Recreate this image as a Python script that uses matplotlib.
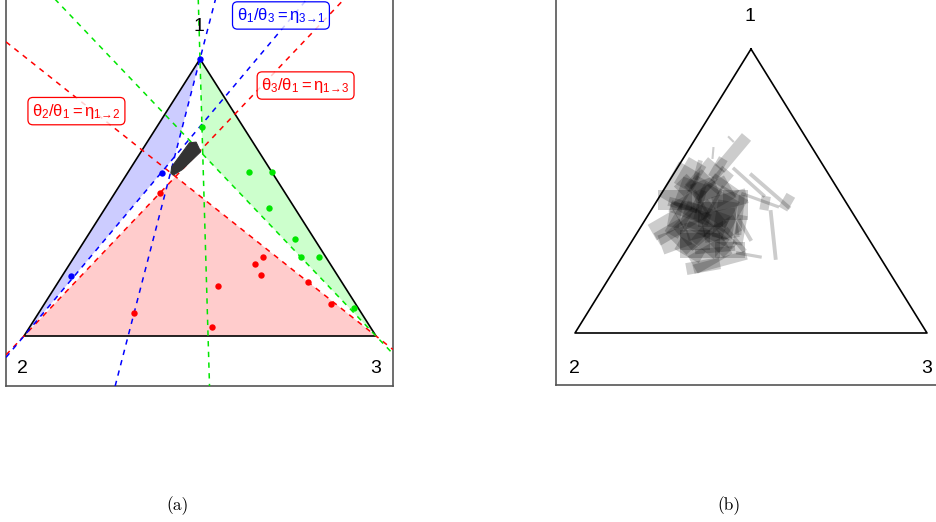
import numpy as np
import matplotlib
matplotlib.use('Agg')
import matplotlib.pyplot as plt
from matplotlib.patches import Polygon

plt.rcParams['font.family'] = ['Liberation Sans', 'DejaVu Sans']
plt.rcParams['mathtext.fontset'] = 'custom'
plt.rcParams['mathtext.rm'] = 'Liberation Sans'
plt.rcParams['mathtext.it'] = 'Liberation Sans'
plt.rcParams['mathtext.default'] = 'regular'

H = np.sqrt(3) / 2

# ternary points (theta1, theta2, theta3) for each colour
red_t1 = [0.516, 0.181, 0.083, 0.032, 0.260, 0.285, 0.220, 0.195, 0.116]
red_t2 = [0.356, 0.358, 0.646, 0.450, 0.214, 0.179, 0.217, 0.096, 0.070]
red_t3 = [0.128, 0.461, 0.271, 0.518, 0.526, 0.536, 0.563, 0.709, 0.814]

green_t1 = [0.755, 0.592, 0.592, 0.462, 0.350, 0.285, 0.285, 0.101]
green_t2 = [0.117, 0.065, 0.000, 0.073, 0.055, 0.071, 0.019, 0.012]
green_t3 = [0.128, 0.343, 0.408, 0.465, 0.595, 0.644, 0.696, 0.887]

blue_t1 = [1.000, 0.588, 0.217]
blue_t2 = [0.000, 0.314, 0.758]
blue_t3 = [0.000, 0.098, 0.025]

# ratio thresholds eta_{i->j} = theta_j / theta_i
eta_12 = 0.49
eta_13 = 0.248
eta_31 = 6.2
eta_32 = 2.38
eta_21 = 4.0
eta_23 = 1.096

# dense cloud of samples (cartesian simplex coords)
blob_x = [0.470, 0.489, 0.502, 0.448, 0.424, 0.417, 0.420]
blob_y = [0.604, 0.606, 0.576, 0.519, 0.503, 0.509, 0.529]

# panel (b): rectangles, centre / length / width / angle
rect_x = [0.449, 0.443, 0.392, 0.406, 0.369, 0.494, 0.554, 0.540, 0.602, 0.563,
          0.307, 0.327, 0.270, 0.364, 0.412, 0.494, 0.327, 0.355, 0.398, 0.426,
          0.341, 0.384, 0.440, 0.469, 0.298, 0.369, 0.412, 0.327, 0.455, 0.284,
          0.384, 0.426, 0.483, 0.355, 0.313, 0.398, 0.435, 0.349, 0.526, 0.341,
          0.298, 0.327, 0.284, 0.355, 0.398, 0.426, 0.369, 0.327, 0.284, 0.355,
          0.412, 0.455, 0.327, 0.384, 0.440, 0.355, 0.256, 0.412, 0.469, 0.384]
rect_y = [0.549, 0.591, 0.549, 0.503, 0.473, 0.460, 0.433, 0.396, 0.399, 0.299,
          0.390, 0.366, 0.308, 0.204, 0.216, 0.238, 0.421, 0.329, 0.390, 0.345,
          0.284, 0.299, 0.405, 0.360, 0.345, 0.436, 0.284, 0.253, 0.284, 0.360,
          0.360, 0.451, 0.314, 0.390, 0.451, 0.253, 0.320, 0.497, 0.405, 0.314,
          0.451, 0.482, 0.405, 0.405, 0.421, 0.375, 0.345, 0.314, 0.284, 0.268,
          0.329, 0.390, 0.375, 0.238, 0.253, 0.451, 0.329, 0.466, 0.314, 0.284]
rect_len = [0.119, 0.023, 0.034, 0.062, 0.102, 0.122, 0.150, 0.040, 0.045, 0.142,
            0.085, 0.119, 0.085, 0.097, 0.156, 0.074, 0.085, 0.128, 0.114, 0.108,
            0.085, 0.142, 0.099, 0.114, 0.099, 0.071, 0.085, 0.080, 0.085, 0.071,
            0.071, 0.085, 0.071, 0.085, 0.051, 0.114, 0.062, 0.057, 0.114, 0.051,
            0.114, 0.085, 0.099, 0.114, 0.099, 0.114, 0.128, 0.114, 0.085, 0.114,
            0.099, 0.071, 0.085, 0.114, 0.085, 0.071, 0.085, 0.071, 0.085, 0.085]
rect_wid = [0.034, 0.006, 0.006, 0.028, 0.062, 0.010, 0.011, 0.026, 0.028, 0.011,
            0.026, 0.034, 0.040, 0.034, 0.026, 0.009, 0.071, 0.085, 0.085, 0.057,
            0.057, 0.023, 0.043, 0.017, 0.043, 0.057, 0.057, 0.040, 0.014, 0.034,
            0.071, 0.023, 0.011, 0.017, 0.040, 0.014, 0.051, 0.014, 0.009, 0.051,
            0.071, 0.057, 0.057, 0.085, 0.071, 0.085, 0.071, 0.085, 0.057, 0.071,
            0.085, 0.085, 0.085, 0.057, 0.043, 0.057, 0.051, 0.043, 0.028, 0.071]
rect_ang = [50, -45, 85, 60, 50, -42, -41, 80, 60, -84,
            -15, -20, 30, 10, 15, -10, 70, 40, -30, 80,
            0, -25, 15, 85, 60, 20, -45, -30, -50, 80,
            0, -35, -60, 75, 45, 5, 30, 75, -20, 15,
            60, 60, 0, 60, 30, 60, -20, 45, 20, 0,
            10, 0, 30, 30, 0, 45, 30, 50, 80, -40]


def to_xy(t1, t2, t3):
    t1, t2, t3 = np.asarray(t1, float), np.asarray(t2, float), np.asarray(t3, float)
    s = t1 + t2 + t3
    return (t3 + t1 / 2) / s, t1 * H / s


V = {1: (0.5, H), 2: (0.0, 0.0), 3: (1.0, 0.0)}


def bary(vals):
    return to_xy(vals.get(1, 0), vals.get(2, 0), vals.get(3, 0))


def region(ax, i, j, k, eij, eik, fill):
    # theta_j/theta_i = eij passes through vertex k, theta_k/theta_i = eik through vertex j
    p1 = bary({i: 1, j: eij})
    p2 = bary({i: 1, k: eik})
    pint = bary({i: 1, j: eij, k: eik})
    ax.add_patch(Polygon([V[j], V[k], pint], closed=True, fc=fill, ec='none', zorder=1))
    return (V[k], p1), (V[j], p2)


def frame(ax):
    for s in ax.spines.values():
        s.set_color('#555555')
        s.set_linewidth(1.2)
    ax.set_xticks([])
    ax.set_yticks([])
    tri = np.array([V[1], V[2], V[3], V[1]])
    ax.plot(tri[:, 0], tri[:, 1], color='black', lw=1.2, zorder=3)


fig = plt.figure(figsize=(9.37, 5.22), dpi=100)

# ---------------- panel (a)
ax = fig.add_axes([6 / 937, 136 / 522, 387 / 937, 406 / 522])
ax.set_xlim(-0.0511, 1.0483)
ax.set_ylim(-0.1563, 1.1129)
frame(ax)

green = '#00e600'
lines = []
lines += [(l, 'red') for l in region(ax, 1, 2, 3, eta_12, eta_13, '#ffcccc')]
lines += [(l, 'blue') for l in region(ax, 3, 1, 2, eta_31, eta_32, '#ccccff')]
lines += [(l, green) for l in region(ax, 2, 1, 3, eta_21, eta_23, '#ccffcc')]
for (a, b), c in lines:
    ax.axline((float(a[0]), float(a[1])), (float(b[0]), float(b[1])), color=c,
              ls=(0, (3.5, 3.5)), lw=1.1, zorder=4)

for t1, t2, t3, c in [(red_t1, red_t2, red_t3, 'red'),
                      (green_t1, green_t2, green_t3, green),
                      (blue_t1, blue_t2, blue_t3, 'blue')]:
    x, y = to_xy(t1, t2, t3)
    ax.plot(x, y, 'o', color=c, ms=4.6, mec='none', zorder=5)

ax.add_patch(Polygon(np.column_stack([blob_x, blob_y]), closed=True,
                     fc='#333333', ec='#333333', lw=0.8, zorder=6))

ax.text(0.497, 0.966, '1', fontsize=14, ha='center', va='center', zorder=7)
ax.text(-0.003, -0.102, '2', fontsize=14, ha='center', va='center')
ax.text(1.0, -0.102, '3', fontsize=14, ha='center', va='center')

box = 'round,pad=0.25,rounding_size=0.3'
labels = [(0.730, 1.002, r'$\theta_1/\theta_3 = \eta_{3\!\rightarrow\!1}$', 'blue'),
          (0.800, 0.783, r'$\theta_3/\theta_1 = \eta_{1\!\rightarrow\!3}$', 'red'),
          (0.149, 0.703, r'$\theta_2/\theta_1 = \eta_{1\!\rightarrow\!2}$', 'red')]
for lx, ly, s, c in labels:
    ax.text(lx, ly, s, color=c, fontsize=12, ha='center', va='center', zorder=8,
            bbox=dict(boxstyle=box, fc=(1, 1, 1, 0.8), ec=c, lw=0.9))

# ---------------- panel (b)
bx = fig.add_axes([556 / 937, 137 / 522, 387 / 937, 405 / 522])
bx.set_xlim(-0.054, 1.0455)
bx.set_ylim(-0.1586, 1.0766)
frame(bx)

ky = 352 / 328
for cx, cy, L, W, a in zip(rect_x, rect_y, rect_len, rect_wid, rect_ang):
    r = np.deg2rad(a)
    u = np.array([np.cos(r), np.sin(r) * ky]) * L / 2
    v = np.array([-np.sin(r), np.cos(r) * ky]) * W / 2
    c = np.array([cx, cy])
    bx.add_patch(Polygon([c + u + v, c - u + v, c - u - v, c + u - v], closed=True,
                         fc='black', alpha=0.2, ec='none', zorder=2))

bx.text(0.497, 0.964, '1', fontsize=14, ha='center', va='center')
bx.text(-0.003, -0.107, '2', fontsize=14, ha='center', va='center')
bx.text(1.0, -0.107, '3', fontsize=14, ha='center', va='center')

fig.text(178 / 937, 1 - 506 / 522, '(a)', fontfamily='cmr10', fontsize=12.5, ha='center', va='center')
fig.text(729 / 937, 1 - 506 / 522, '(b)', fontfamily='cmr10', fontsize=12.5, ha='center', va='center')

fig.savefig('out.png', dpi=100)
